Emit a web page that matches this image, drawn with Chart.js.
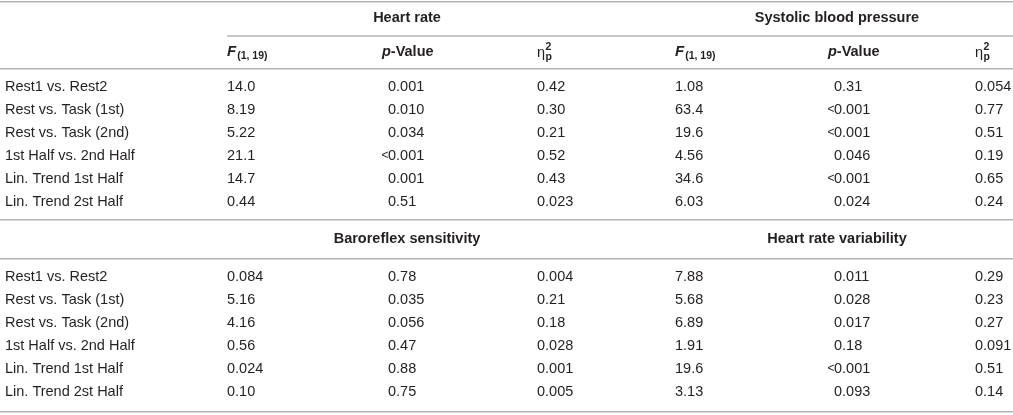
<!DOCTYPE html>
<html>
<head>
<meta charset="utf-8">
<script src="https://cdn.jsdelivr.net/npm/chart.js@4.4.1/dist/chart.umd.min.js"></script>
<style>
    html, body { margin: 0; padding: 0; background: #fff; }
    #wrap { width: 1013px; height: 415px; position: relative; }
</style>
</head>
<body>
<div id="wrap"><canvas id="table-chart"></canvas></div>
<script>
// start: data
const comparisons = [
    'Rest1 vs. Rest2',
    'Rest vs. Task (1st)',
    'Rest vs. Task (2nd)',
    '1st Half vs. 2nd Half',
    'Lin. Trend 1st Half',
    'Lin. Trend 2st Half',
]
const measures = ['Heart rate', 'Systolic blood pressure', 'Baroreflex sensitivity', 'Heart rate variability']

const hrF = ['14.0', '8.19', '5.22', '21.1', '14.7', '0.44']
const hrP = ['0.001', '0.010', '0.034', '<0.001', '0.001', '0.51']
const hrEta = ['0.42', '0.30', '0.21', '0.52', '0.43', '0.023']

const sbpF = ['1.08', '63.4', '19.6', '4.56', '34.6', '6.03']
const sbpP = ['0.31', '<0.001', '<0.001', '0.046', '<0.001', '0.024']
const sbpEta = ['0.054', '0.77', '0.51', '0.19', '0.65', '0.24']

const brsF = ['0.084', '5.16', '4.16', '0.56', '0.024', '0.10']
const brsP = ['0.78', '0.035', '0.056', '0.47', '0.88', '0.75']
const brsEta = ['0.004', '0.21', '0.18', '0.028', '0.001', '0.005']

const hrvF = ['7.88', '5.68', '6.89', '1.91', '19.6', '3.13']
const hrvP = ['0.011', '0.028', '0.017', '0.18', '<0.001', '0.093']
const hrvEta = ['0.29', '0.23', '0.27', '0.091', '0.51', '0.14']
// end: data

// start: layout (x in canvas units, y in table rows)
const colX = { label: 5, f1: 227, p1: 388, eta1: 537, f2: 675, p2: 834, eta2: 975 }
const groupX = [407, 837]
const sectionRow = [0, 8.25]
const groupHeadRow = [-3.0, 6.61]
const subHeadRow = -1.52
const fullRules = [-3.72, -0.78, 5.78, 7.48, 14.13]
const partialRule = -2.22
const rowPx = 23
const firstRowPx = 87

const FONT = "'Liberation Sans', Arial, Helvetica, sans-serif"
const TEXT = '#231f20'
const RULE = '#b4b4b4'
// end: layout

const sections = [
    { groups: [measures[0], measures[1]], cols: [hrF, hrP, hrEta, sbpF, sbpP, sbpEta] },
    { groups: [measures[2], measures[3]], cols: [brsF, brsP, brsEta, hrvF, hrvP, hrvEta] },
]
const colKeys = ['f1', 'p1', 'eta1', 'f2', 'p2', 'eta2']

const datasets = []
sections.forEach((sec, s) => {
    datasets.push({
        kind: 'label',
        data: comparisons.map((c, i) => ({ x: colX.label, y: sectionRow[s] + i, t: c })),
    })
    sec.cols.forEach((col, c) => {
        datasets.push({
            kind: colKeys[c].charAt(0) === 'p' ? 'p' : 'num',
            data: col.map((v, i) => ({ x: colX[colKeys[c]], y: sectionRow[s] + i, t: v })),
        })
    })
})

const tablePlugin = {
    id: 'tableText',
    afterDatasetsDraw(chart) {
        const ctx = chart.ctx
        const xs = chart.scales.x
        const ys = chart.scales.y
        ctx.save()
        ctx.fillStyle = TEXT
        ctx.textBaseline = 'middle'

        // body cells
        chart.data.datasets.forEach((ds, d) => {
            const meta = chart.getDatasetMeta(d)
            meta.data.forEach((el, i) => {
                const t = ds.data[i].t
                ctx.textAlign = 'left'
                if (t.charAt(0) === '<') {
                    // small "<" hung in front of the number
                    ctx.font = '12px ' + FONT
                    ctx.textAlign = 'right'
                    ctx.fillText('<', el.x + 0.5, el.y)
                    ctx.textAlign = 'left'
                    ctx.font = '14.5px ' + FONT
                    ctx.fillText(t.slice(1), el.x, el.y)
                } else {
                    ctx.font = '14.5px ' + FONT
                    ctx.fillText(t, el.x, el.y)
                }
            })
        })

        // group headers
        sections.forEach((sec, s) => {
            const y = ys.getPixelForValue(groupHeadRow[s])
            ctx.font = 'bold 14.5px ' + FONT
            ctx.textAlign = 'center'
            sec.groups.forEach((g, k) => ctx.fillText(g, xs.getPixelForValue(groupX[k]), y))
        })

        // column headers (first section only)
        const hy = ys.getPixelForValue(subHeadRow)
        ctx.textAlign = 'left'
        ;[['f1', 'p1', 'eta1'], ['f2', 'p2', 'eta2']].forEach(keys => {
            let x = xs.getPixelForValue(colX[keys[0]])
            ctx.font = 'italic bold 15px ' + FONT
            ctx.fillText('F', x, hy)
            x += ctx.measureText('F').width + 1
            ctx.font = 'bold 10.5px ' + FONT
            ctx.fillText('(1, 19)', x, hy + 4)

            x = xs.getPixelForValue(colX[keys[1]]) - 6
            ctx.font = 'italic bold 14.5px ' + FONT
            ctx.fillText('p', x, hy)
            x += ctx.measureText('p').width
            ctx.font = 'bold 14.5px ' + FONT
            ctx.fillText('-Value', x, hy)

            x = xs.getPixelForValue(colX[keys[2]])
            ctx.font = '14.5px ' + FONT
            ctx.fillText('\u03b7', x, hy + 1)
            x += ctx.measureText('\u03b7').width + 0.5
            ctx.font = 'bold 10.5px ' + FONT
            ctx.fillText('2', x, hy - 5)
            ctx.fillText('p', x, hy + 5)
        })

        // rule under the group headers
        const ry = ys.getPixelForValue(partialRule)
        ctx.strokeStyle = RULE
        ctx.lineWidth = 1.5
        ctx.beginPath()
        ctx.moveTo(xs.getPixelForValue(colX.f1), ry)
        ctx.lineTo(chart.chartArea.right, ry)
        ctx.stroke()
        ctx.restore()
    }
}

const yMin = -firstRowPx / rowPx
const yMax = yMin + 415 / rowPx

const tableChart = new Chart(document.getElementById('table-chart'), {
    type: 'scatter',
    data: { datasets: datasets },
    options: {
        responsive: true,
        maintainAspectRatio: false,
        animation: false,
        events: [],
        layout: { padding: 0, autoPadding: false },
        elements: { point: { radius: 0, hoverRadius: 0 } },
        plugins: {
            legend: { display: false },
            tooltip: { enabled: false },
        },
        scales: {
            x: { type: 'linear', min: 0, max: 1013, display: false },
            y: {
                type: 'linear',
                reverse: true,
                min: yMin,
                max: yMax,
                afterBuildTicks: scale => { scale.ticks = fullRules.map(v => ({ value: v })) },
                afterFit: scale => { scale.width = 0 },
                ticks: { display: false },
                border: { display: false },
                grid: { color: RULE, lineWidth: 1.5, drawTicks: false },
            },
        },
    },
    plugins: [tablePlugin],
})
</script>
</body>
</html>
